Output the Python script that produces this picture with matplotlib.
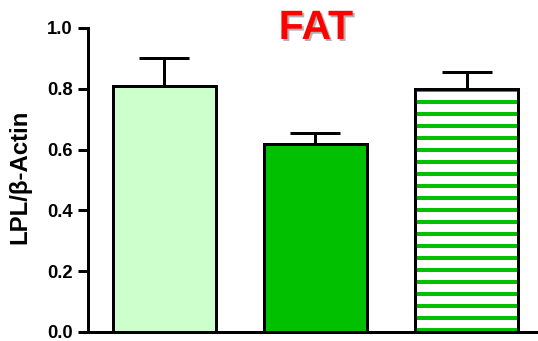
import matplotlib
matplotlib.use("Agg")
import matplotlib.pyplot as plt
import matplotlib.patheffects as pe

# LPL expression in fat tissue, mean + SEM per group
groups = ["Group 1", "Group 2", "Group 3"]
means = [0.81, 0.62, 0.80]
sems = [0.09, 0.035, 0.055]
yticks = [0.0, 0.2, 0.4, 0.6, 0.8, 1.0]

GREEN = "#00C000"

# 72 dpi so that 1 pt == 1 px and one '-' hatch gives a 12 px stripe period
DPI = 72
plt.rcParams["font.family"] = ["Liberation Sans", "DejaVu Sans"]
plt.rcParams["font.weight"] = "bold"
plt.rcParams["hatch.linewidth"] = 4

fig = plt.figure(figsize=(538 / DPI, 341 / DPI), dpi=DPI)
ax = fig.add_axes([88 / 538, 1 - 332 / 341, 1 - 88 / 538, (332 - 28) / 341])

x = range(len(groups))
width = 0.68

# upper-only error bars
ax.errorbar(x, means, yerr=[[0] * 3, sems], fmt="none", ecolor="black",
            elinewidth=3, capsize=25, capthick=3, zorder=1)

# solid bars
ax.bar([0], [means[0]], width, color="#CCFFCC", edgecolor="black", linewidth=3, zorder=2)
ax.bar([1], [means[1]], width, color=GREEN, edgecolor="black", linewidth=3, zorder=2)
# striped bar: hatch in green, then a black outline on top
ax.bar([2], [means[2]], width, color="white", edgecolor=GREEN, hatch="-", linewidth=0, zorder=2)
ax.bar([2], [means[2]], width, fill=False, edgecolor="black", linewidth=3, zorder=3)

ax.set_xlim(-0.503, 2.47)
ax.set_ylim(0, 1.0)
ax.set_yticks(yticks)
ax.set_yticklabels([f"{t:.1f}" for t in yticks], fontsize=18.5, fontweight="bold")
ax.set_xticks([])

for side in ["top", "right"]:
    ax.spines[side].set_visible(False)
for side in ["left", "bottom"]:
    ax.spines[side].set_linewidth(3)
ax.tick_params(axis="y", length=10, width=3, pad=5)

fig.text(20 / 538, 1 - 177 / 341, "LPL/β-Actin", rotation=90, ha="center", va="center",
         fontsize=24, fontweight="bold")

fig.text(316 / 538, 1 - 39 / 341, "FAT", ha="center", va="baseline", color="red",
         fontsize=41, fontweight="bold",
         path_effects=[pe.SimplePatchShadow(offset=(2, -2), shadow_rgbFace="gray", alpha=0.6),
                       pe.Normal()])

fig.savefig("out.png", dpi=DPI)
